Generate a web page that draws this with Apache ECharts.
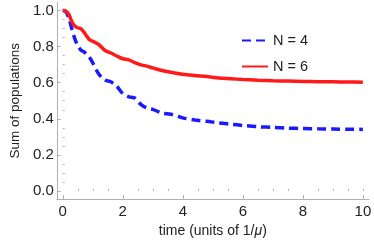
<!DOCTYPE html>
<html><head><meta charset="utf-8">
<script src="https://cdn.jsdelivr.net/npm/echarts@6/dist/echarts.min.js"></script>
<style>html,body{margin:0;padding:0;background:#fff}#c{width:374px;height:243px}</style>
</head><body><div id="c"></div>
<script>
const time = [0,0.1,0.2,0.3,0.4,0.5,0.6,0.7,0.8,0.9,1.0,1.2,1.4,1.6,1.8,2.0,2.2,2.4,2.6,2.8,3.0,3.3,3.6,4.0,4.4,4.8,5.2,5.6,6.0,6.5,7.0,7.5,8.0,8.5,9.0,9.5,10];
const n4 = [1.0,0.995,0.96,0.9,0.845,0.805,0.782,0.772,0.758,0.738,0.71,0.648,0.615,0.605,0.58,0.54,0.522,0.515,0.48,0.46,0.452,0.432,0.425,0.405,0.393,0.386,0.377,0.37,0.363,0.356,0.352,0.348,0.346,0.344,0.343,0.342,0.341];
const n6 = [1.0,0.998,0.98,0.94,0.915,0.905,0.9,0.882,0.858,0.838,0.83,0.812,0.78,0.765,0.748,0.733,0.727,0.712,0.699,0.692,0.682,0.668,0.658,0.647,0.64,0.634,0.626,0.622,0.618,0.614,0.611,0.609,0.607,0.606,0.605,0.604,0.603];
const xMajor = [0,2,4,6,8,10];
const xMinor = [0.5,1,1.5,2.5,3,3.5,4.5,5,5.5,6.5,7,7.5,8.5,9,9.5,10];
const yMajor = [0,0.2,0.4,0.6,0.8,1.0];
const yMinor = [0.05,0.1,0.15,0.25,0.3,0.35,0.45,0.5,0.55,0.65,0.7,0.75,0.85,0.9,0.95];
const names = ['N = 4','N = 6'];

const axisCol = '#b0b0b0';
const txt = '#222';
const font = 'Liberation Sans, Arial, sans-serif';
const XMIN=-0.2, XMAX=10.2, YMIN=-0.045, YMAX=1.045;
const chart = echarts.init(document.getElementById('c'), null, {renderer:'canvas'});
chart.setOption({
  animation:false,
  grid:{left:45, right:2, top:2.5, bottom:43, containLabel:false},
  legend:{
    orient:'vertical', left:236, top:28, itemWidth:26, itemHeight:14, itemGap:11,
    itemStyle:{opacity:0},
    textStyle:{fontFamily:font, fontSize:14.5, color:txt},
    data:names
  },
  xAxis:[{
    type:'value', min:XMIN, max:XMAX,
    name:'time (units of 1/{i|μ})', nameLocation:'middle', nameGap:25,
    nameTextStyle:{fontFamily:font, fontSize:14, color:txt, rich:{i:{fontStyle:'italic', fontFamily:font, fontSize:14, color:txt}}},
    axisLine:{show:true, onZero:false, lineStyle:{color:axisCol, width:1}},
    axisTick:{show:true, inside:true, length:4, customValues:xMajor, lineStyle:{color:axisCol}},
    axisLabel:{customValues:xMajor, fontFamily:font, fontSize:15, color:txt, margin:5},
    splitLine:{show:false}
  },{
    type:'value', min:XMIN, max:XMAX, position:'bottom',
    axisLine:{show:false}, axisLabel:{show:false}, splitLine:{show:false},
    axisTick:{show:true, inside:true, length:2, customValues:xMinor, lineStyle:{color:axisCol}}
  }],
  yAxis:[{
    type:'value', min:YMIN, max:YMAX,
    name:'Sum of populations', nameLocation:'middle', nameGap:31, nameRotate:90,
    nameTextStyle:{fontFamily:font, fontSize:13.5, color:txt},
    axisLine:{show:true, onZero:false, lineStyle:{color:axisCol, width:1}},
    axisTick:{show:true, inside:true, length:4, customValues:yMajor, lineStyle:{color:axisCol}},
    axisLabel:{customValues:yMajor, fontFamily:font, fontSize:15, color:txt, margin:3, formatter:v=>v.toFixed(1)},
    splitLine:{show:false}
  },{
    type:'value', min:YMIN, max:YMAX, position:'left',
    axisLine:{show:false}, axisLabel:{show:false}, splitLine:{show:false},
    axisTick:{show:true, inside:true, length:2, customValues:yMinor, lineStyle:{color:axisCol}}
  }],
  series:[{
    name:names[0], type:'line', smooth:0.3, symbol:'none',
    data:time.map((t,i)=>[t,n4[i]]),
    lineStyle:{color:'#1a1aff', width:3.5, type:[9,5]},
    itemStyle:{color:'#1a1aff'}
  },{
    name:names[1], type:'line', smooth:0.3, symbol:'none',
    data:time.map((t,i)=>[t,n6[i]]),
    lineStyle:{color:'#ff1a1a', width:3.5},
    itemStyle:{color:'#ff1a1a'}
  }]
});
</script></body></html>
